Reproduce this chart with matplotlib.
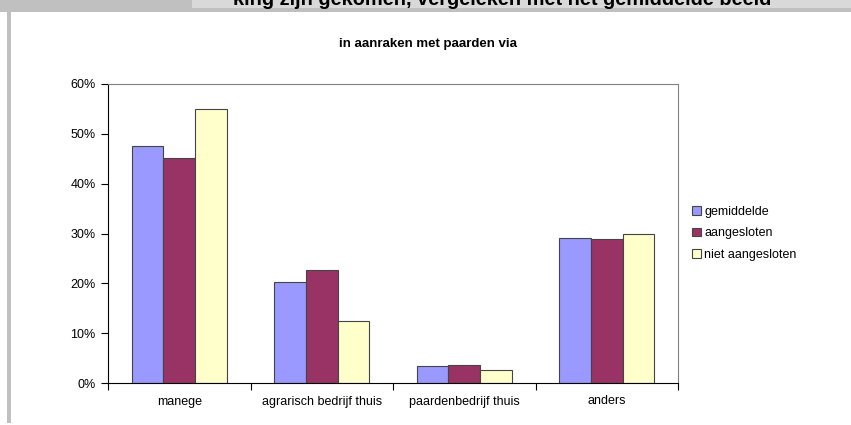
import numpy as np
import matplotlib
matplotlib.use("Agg")
import matplotlib.pyplot as plt
from matplotlib.patches import Rectangle
from matplotlib.ticker import FuncFormatter

categories = ["manege", "agrarisch bedrijf thuis", "paardenbedrijf thuis", "anders"]
gemiddelde = [47.5, 20.2, 3.5, 29.1]
aangesloten = [45.2, 22.6, 3.6, 28.8]
niet_aangesloten = [55.0, 12.4, 2.6, 30.0]
series_names = ["gemiddelde", "aangesloten", "niet aangesloten"]
colors = ["#9999FF", "#993366", "#FFFFCC"]

plt.rcParams["font.family"] = ["Liberation Sans", "DejaVu Sans"]

W, H = 851, 425
fig = plt.figure(figsize=(W / 100, H / 100), dpi=100)
fig.patch.set_facecolor("white")

# header strip (cropped slide title) and left border
fig.patches.append(Rectangle((0, 1 - 12 / H), 1, 12 / H, transform=fig.transFigure,
                             facecolor="#c0c0c0", edgecolor="none", zorder=0))
fig.patches.append(Rectangle((192 / W, 1 - 8 / H), 1, 8 / H, transform=fig.transFigure,
                             facecolor="#d9d9d9", edgecolor="none", zorder=1))
fig.patches.append(Rectangle((7 / W, 1 - 423 / H), 4 / W, 411 / H, transform=fig.transFigure,
                             facecolor="#c0c0c0", edgecolor="none", zorder=0))
fig.text(233 / W, 1 - 5 / H, "king zijn gekomen, vergeleken met het gemiddelde beeld",
         fontsize=14.4, fontweight="bold", ha="left", va="baseline", color="black")

left, right, bottom, top = 108, 678, 383, 84
ax = fig.add_axes([left / W, 1 - bottom / H, (right - left) / W, (bottom - top) / H])

x = np.arange(len(categories))
bw = 1 / 4.5
data = [gemiddelde, aangesloten, niet_aangesloten]
for i, (vals, name, c) in enumerate(zip(data, series_names, colors)):
    ax.bar(x + (i - 1) * bw, vals, bw, color=c, edgecolor="#444444", linewidth=0.8,
           label=name, zorder=2)

ax.set_xlim(-0.5, len(categories) - 0.5)
ax.set_ylim(0, 60)
ax.set_yticks(np.arange(0, 61, 10))
ax.yaxis.set_major_formatter(FuncFormatter(lambda v, p: f"{v:.0f}%"))
ax.set_xticks(x)
ax.set_xticklabels(categories)
ax.set_xticks(np.arange(-0.5, len(categories)), minor=True)
ax.tick_params(axis="x", which="major", length=0, pad=9, labelsize=9)
ax.tick_params(axis="x", which="minor", length=5, width=0.8, direction="out")
ax.tick_params(axis="y", length=5, width=0.8, direction="out", labelsize=9, pad=4)

for s in ["top", "right"]:
    ax.spines[s].set_color("#808080")
    ax.spines[s].set_linewidth(0.8)
for s in ["left", "bottom"]:
    ax.spines[s].set_color("black")
    ax.spines[s].set_linewidth(0.8)

fig.text(428 / W, 1 - 44 / H, "in aanraken met paarden via", fontsize=9.5,
         fontweight="bold", ha="center", va="center")

leg = fig.legend(loc="upper left", bbox_to_anchor=(692 / W, 1 - 206 / H), frameon=False,
                 fontsize=9, handlelength=0.7, handleheight=0.7, handletextpad=0.3,
                 labelspacing=0.75, borderaxespad=0, borderpad=0)

fig.savefig("out.png", dpi=100)
